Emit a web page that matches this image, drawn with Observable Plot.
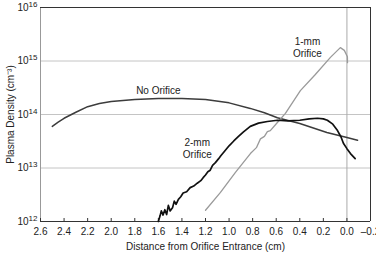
<!DOCTYPE html>
<html><head><meta charset="utf-8">
<script src="https://cdn.jsdelivr.net/npm/d3@7"></script>
<script src="https://cdn.jsdelivr.net/npm/@observablehq/plot@0.6"></script>
<style>body{margin:0;background:#fff;} svg{font-family:"Liberation Sans",Arial,sans-serif;}</style>
</head><body><div id="chart"></div>
<script>
// No Orifice
const noX = [2.50, 2.45, 2.40, 2.30, 2.20, 2.10, 2.00, 1.80, 1.60, 1.40, 1.20, 1.00, 0.82, 0.70, 0.59, 0.40, 0.17, 0.00, -0.09];
const noY = [6.0e13, 7.2e13, 8.5e13, 1.1e14, 1.4e14, 1.6e14, 1.75e14, 1.9e14, 2.0e14, 2.0e14, 1.9e14, 1.65e14, 1.3e14, 1.08e14, 8.7e13, 6.8e13, 4.6e13, 3.7e13, 3.3e13];
// 1-mm Orifice
const oneX = [1.20, 1.073, 0.946, 0.819, 0.768, 0.734, 0.70, 0.675, 0.65, 0.59, 0.522, 0.395, 0.268, 0.14, 0.056, 0.022, -0.004, -0.005];
const oneY = [1.62e12, 3.5e12, 8.3e12, 1.86e13, 2.4e13, 3.5e13, 3.9e13, 4.8e13, 5.0e13, 7.1e13, 1.05e14, 2.8e14, 5.6e14, 1.17e15, 1.78e15, 1.58e15, 1.2e15, 9.3e14];
// 2-mm Orifice
const twoX = [1.60, 1.585, 1.575, 1.56, 1.545, 1.53, 1.515, 1.50, 1.48, 1.465, 1.45, 1.43, 1.41, 1.39, 1.36, 1.33, 1.30, 1.27, 1.24, 1.22, 1.20, 1.18, 1.16, 1.14, 1.116, 1.09, 1.07, 1.04, 1.00, 0.96, 0.92, 0.88, 0.82, 0.75, 0.675, 0.59, 0.50, 0.40, 0.32, 0.25, 0.20, 0.166, 0.12, 0.08, 0.05, 0.03, 0.00, -0.03, -0.07];
const twoY = [1.0e12, 1.29e12, 1.58e12, 1.32e12, 1.66e12, 1.35e12, 2.0e12, 1.58e12, 1.8e12, 2.4e12, 2.1e12, 2.6e12, 2.9e12, 3.4e12, 3.6e12, 4.3e12, 4.6e12, 5.2e12, 5.8e12, 6.6e12, 7.4e12, 8.5e12, 9.1e12, 1.12e13, 1.26e13, 1.48e13, 1.7e13, 2.04e13, 2.6e13, 3.2e13, 3.9e13, 4.7e13, 6.0e13, 6.9e13, 7.4e13, 7.8e13, 7.6e13, 7.8e13, 8.3e13, 8.5e13, 8.3e13, 7.8e13, 6.6e13, 5.0e13, 3.8e13, 2.9e13, 2.3e13, 1.86e13, 1.5e13];

const xTicks = [2.6, 2.4, 2.2, 2.0, 1.8, 1.6, 1.4, 1.2, 1.0, 0.8, 0.6, 0.4, 0.2, 0.0, -0.2];
const xTickLabels = ["2.6", "2.4", "2.2", "2.0", "1.8", "1.6", "1.4", "1.2", "1.0", "0.8", "0.6", "0.4", "0.2", "0.0", "\u20130.2"];
const yTicks = [1e12, 1e13, 1e14, 1e15, 1e16];
const yTickExp = ["12", "13", "14", "15", "16"];

const curveLabels = ["No Orifice", "2-mm\nOrifice", "1-mm\nOrifice"];
const curveLabelX = [1.60, 1.27, 0.335];
const curveLabelY = [2.9e14, 2.3e13, 1.8e15];

const rows = (xs, ys) => xs.map((x, i) => ({x, y: ys[i]}));
const labelRows = curveLabels.map((t, i) => ({t, x: curveLabelX[i], y: curveLabelY[i]}));

const chart = Plot.plot({
  width: 376, height: 256,
  marginLeft: 40, marginRight: 6, marginTop: 7, marginBottom: 35,
  style: {fontFamily: '"Liberation Sans", Arial, sans-serif', fontSize: "10px", color: "#222", background: "#fff"},
  x: {domain: [2.6, -0.2]},
  y: {type: "log", domain: [1e12, 1e16]},
  marks: [
    Plot.ruleY([1e13, 1e14, 1e15], {stroke: "#c4c4c4"}),
    Plot.ruleX([0], {stroke: "#aaa"}),
    Plot.ruleX([2.6], {stroke: "#999"}),
    Plot.ruleX([-0.2], {stroke: "#333"}),
    Plot.ruleY([1e12], {stroke: "#333"}),
    Plot.ruleY([1e16], {stroke: "#333"}),
    Plot.ruleX(xTicks, {y1: 1e12, y2: 1e12, insetTop: -3, stroke: "#333"}),
    Plot.line(rows(noX, noY), {x: "x", y: "y", stroke: "#3c3c3c", strokeWidth: 1.5}),
    Plot.line(rows(oneX, oneY), {x: "x", y: "y", stroke: "#9a9a9a", strokeWidth: 1.3}),
    Plot.line(rows(twoX, twoY), {x: "x", y: "y", stroke: "#111", strokeWidth: 1.7}),
    Plot.text(labelRows, {x: "x", y: "y", text: "t", fontSize: 10, fill: "#222", lineHeight: 1.2}),
    Plot.axisX({ticks: xTicks, tickFormat: d => xTickLabels[xTicks.findIndex(t => Math.abs(t - d) < 1e-9)], tickSize: 0, tickPadding: 6,
      label: "Distance from Orifice Entrance (cm)", labelAnchor: "center", labelArrow: "none", labelOffset: 28}),
    Plot.axisY({ticks: yTicks, tickFormat: d => "10^" + yTickExp[yTicks.findIndex(t => Math.abs(t / d - 1) < 1e-6)], tickSize: 0, tickPadding: 3,
      label: "Plasma Density (cm\u207B\u00B3)", labelAnchor: "center", labelArrow: "none", labelOffset: 34})
  ]
});

d3.select(chart).selectAll('g[aria-label="y-axis tick label"] text').each(function() {
  const s = d3.select(this).text();
  if (!s.includes("^")) return;
  const [base, exp] = s.split("^");
  const el = d3.select(this);
  el.text(base);
  el.append("tspan").attr("dy", "-0.5em").attr("font-size", "8px").text(exp);
});

document.getElementById("chart").appendChild(chart);
</script>
</body></html>
